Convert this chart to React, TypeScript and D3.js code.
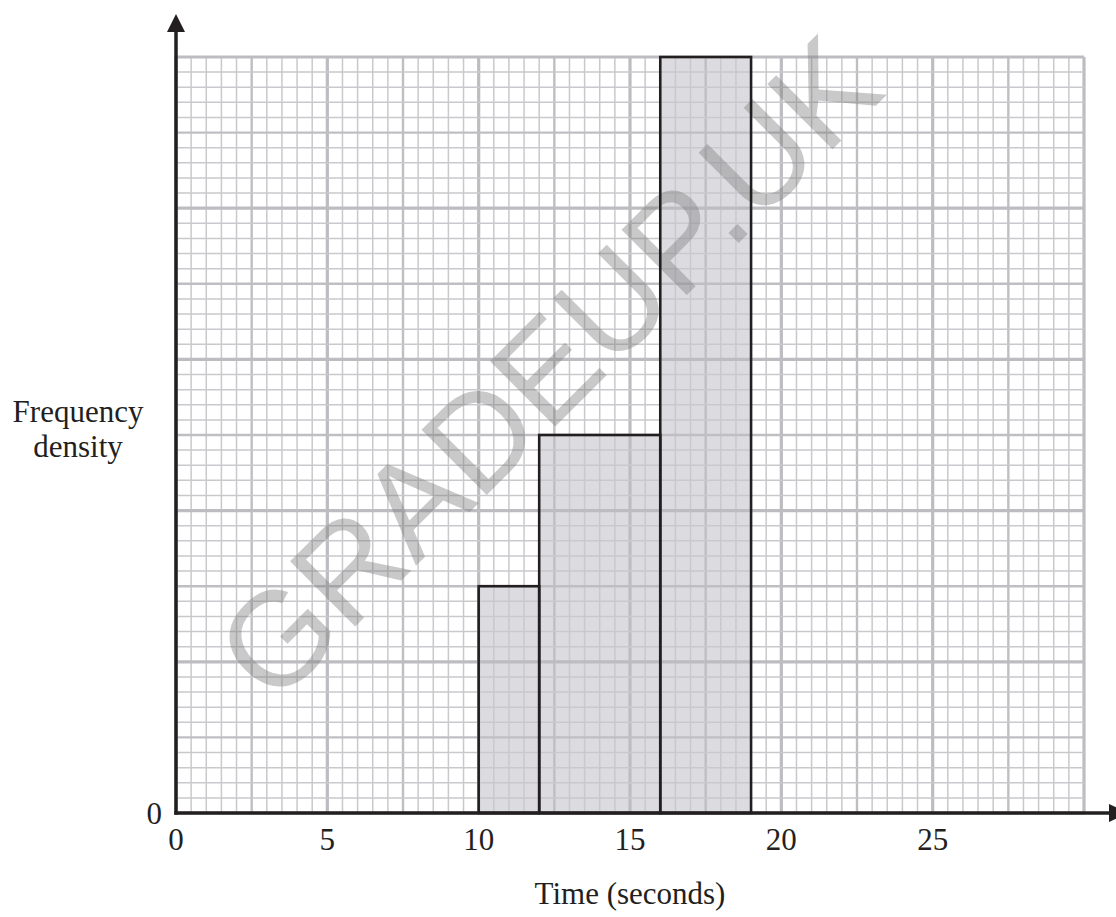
import React from "react";
import * as d3 from "d3";

const W = 1116;
const H = 917;

// Histogram classes (Time in seconds) and frequency density (in large-square units)
const classStarts = [10, 12, 16];
const classEnds = [12, 16, 19];
const densities = [3, 5, 10];

const xTickValues = [0, 5, 10, 15, 20, 25];
const xTitle = "Time (seconds)";
const yTitleLines = ["Frequency", "density"];
const watermark = "GRADEUP.UK";

const X_MAX = 30;
const Y_MAX = 10;

export default function App() {
  const x = d3.scaleLinear().domain([0, X_MAX]).range([176, 1084]);
  const y = d3.scaleLinear().domain([0, Y_MAX]).range([813, 57]);

  const vLines = d3.range(0, X_MAX * 2 + 1).map((i) => i / 2);
  const hLines = d3.range(0, Y_MAX * 5 + 1).map((i) => i / 5);

  const gridStyle = (i: number) =>
    i % 10 === 0
      ? { stroke: "#bdbdc1", w: 3.2 }
      : i % 5 === 0
      ? { stroke: "#bfbfc3", w: 2.4 }
      : { stroke: "#c9c9cd", w: 1.5 };

  const bars = classStarts.map((s, i) => ({ s, e: classEnds[i], d: densities[i] }));
  const font = "'Liberation Serif', 'Times New Roman', Times, serif";
  const ink = "#231f20";

  return (
    <div style={{ position: "absolute", left: 0, top: 0 }}>
      <svg width={W} height={H} style={{ display: "block", background: "#fff" }}>
        {/* bar fills */}
        {bars.map((b, i) => (
          <rect
            key={"f" + i}
            x={x(b.s)}
            y={y(b.d)}
            width={x(b.e) - x(b.s)}
            height={y(0) - y(b.d)}
            fill="#dcdce0"
          />
        ))}
        {/* grid */}
        {vLines.map((v, i) => {
          const g = gridStyle(i);
          return (
            <line key={"v" + i} x1={x(v)} x2={x(v)} y1={y(0)} y2={y(Y_MAX)} stroke={g.stroke} strokeWidth={g.w} />
          );
        })}
        {hLines.map((v, i) => {
          const g = gridStyle(i);
          return (
            <line key={"h" + i} x1={x(0)} x2={x(X_MAX)} y1={y(v)} y2={y(v)} stroke={g.stroke} strokeWidth={g.w} />
          );
        })}
        {/* watermark */}
        <text
          x={548}
          y={368}
          transform="rotate(-45 548 368)"
          textAnchor="middle"
          dominantBaseline="central"
          fontFamily="'Liberation Sans', Arial, sans-serif"
          fontSize={134}
          fill="#7f7f7f"
          fillOpacity={0.42}
        >
          {watermark}
        </text>
        {/* bar outlines */}
        {bars.map((b, i) => (
          <rect
            key={"o" + i}
            x={x(b.s)}
            y={y(b.d)}
            width={x(b.e) - x(b.s)}
            height={y(0) - y(b.d)}
            fill="none"
            stroke={ink}
            strokeWidth={2.6}
          />
        ))}
        {/* axes */}
        <line x1={x(0)} x2={x(0)} y1={y(0) + 1.75} y2={28} stroke={ink} strokeWidth={3.5} />
        <path d={`M${x(0)},14 L${x(0) - 9},32 L${x(0) + 9},32 Z`} fill={ink} />
        <line x1={x(0) - 1.75} x2={1112} y1={y(0)} y2={y(0)} stroke={ink} strokeWidth={3.5} />
        <path d={`M1128,${y(0)} L1109,${y(0) - 9} L1109,${y(0) + 9} Z`} fill={ink} />
        {/* tick labels */}
        {xTickValues.map((t) => (
          <text key={"t" + t} x={x(t)} y={850} textAnchor="middle" fontFamily={font} fontSize={31} fill={ink}>
            {t}
          </text>
        ))}
        <text x={162} y={824} textAnchor="end" fontFamily={font} fontSize={31} fill={ink}>
          0
        </text>
        {/* axis titles */}
        <text x={x(15)} y={904} textAnchor="middle" fontFamily={font} fontSize={31} fill={ink}>
          {xTitle}
        </text>
        {yTitleLines.map((l, i) => (
          <text key={"y" + i} x={78} y={422 + i * 35} textAnchor="middle" fontFamily={font} fontSize={31} fill={ink}>
            {l}
          </text>
        ))}
      </svg>
    </div>
  );
}
